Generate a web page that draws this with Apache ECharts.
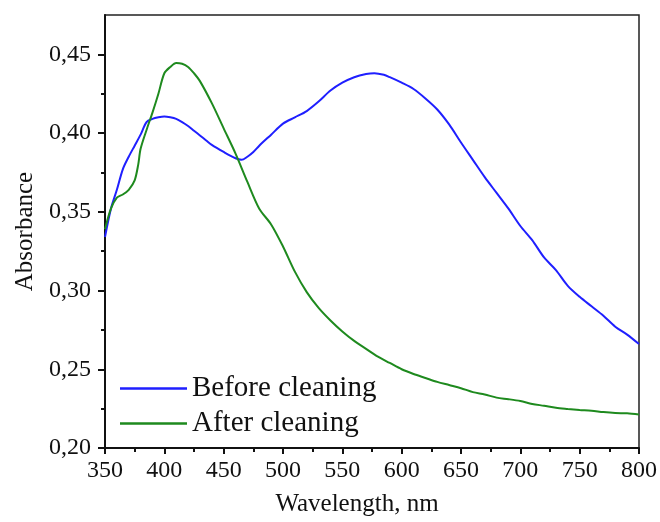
<!DOCTYPE html>
<html>
<head>
<meta charset="utf-8">
<script src="https://cdn.jsdelivr.net/npm/echarts@6/dist/echarts.min.js"></script>
<style>
  html, body { margin: 0; padding: 0; background: #fff; }
  #chart { width: 660px; height: 522px; }
</style>
</head>
<body>
<div id="chart"></div>
<script>
// Wavelength grid (nm) and absorbance
const beforeWl = [350, 355, 360, 365, 370, 375, 380, 385, 390, 395, 400, 405, 410, 415, 420, 425, 430, 435, 440, 450, 460, 465, 470, 475, 480, 490, 500, 510, 520, 530, 540, 550, 560, 570, 577, 585, 590, 600, 610, 620, 630, 640, 650, 660, 670, 680, 690, 700, 710, 720, 730, 740, 750, 760, 770, 780, 790, 800];
const beforeAbs = [0.334, 0.352, 0.364, 0.377, 0.385, 0.392, 0.399, 0.407, 0.409, 0.410, 0.4105, 0.410, 0.409, 0.407, 0.4045, 0.4015, 0.3985, 0.3955, 0.3925, 0.388, 0.384, 0.383, 0.385, 0.388, 0.392, 0.399, 0.406, 0.410, 0.414, 0.420, 0.427, 0.432, 0.4355, 0.4375, 0.438, 0.437, 0.4355, 0.432, 0.428, 0.422, 0.415, 0.4055, 0.394, 0.383, 0.372, 0.362, 0.352, 0.341, 0.332, 0.321, 0.313, 0.303, 0.296, 0.290, 0.284, 0.277, 0.272, 0.266];

const afterWl = [350, 355, 360, 365, 370, 375, 378, 380, 385, 390, 395, 400, 405, 410, 415, 420, 425, 430, 440, 450, 460, 470, 480, 490, 500, 510, 520, 530, 540, 550, 560, 570, 580, 590, 600, 610, 620, 630, 640, 650, 660, 670, 680, 690, 700, 710, 720, 730, 740, 750, 760, 770, 780, 790, 800];
const afterAbs = [0.339, 0.352, 0.359, 0.361, 0.364, 0.370, 0.380, 0.390, 0.402, 0.413, 0.425, 0.438, 0.442, 0.4445, 0.444, 0.442, 0.438, 0.433, 0.419, 0.403, 0.387, 0.369, 0.352, 0.342, 0.328, 0.312, 0.299, 0.289, 0.281, 0.274, 0.268, 0.263, 0.258, 0.254, 0.250, 0.247, 0.2445, 0.242, 0.240, 0.238, 0.2355, 0.234, 0.232, 0.231, 0.2298, 0.228, 0.2268, 0.2255, 0.2248, 0.2242, 0.2237, 0.2228, 0.2222, 0.222, 0.2213];

const seriesNames = ['Before cleaning', 'After cleaning'];
const yMajor = [0.20, 0.25, 0.30, 0.35, 0.40, 0.45];
const yMinor = [0.225, 0.275, 0.325, 0.375, 0.425];

const font = "'Liberation Serif', 'Times New Roman', serif";
const ink = '#111';

const chart = echarts.init(document.getElementById('chart'));

const pairs = (xs, ys) => xs.map((x, i) => [x, ys[i]]);

chart.setOption({
    animation: false,
    backgroundColor: '#fff',
    grid: {
        left: 105, right: 20, top: 15, bottom: 72,
        show: true, borderColor: '#222', borderWidth: 1.5
    },
    legend: {
        orient: 'vertical',
        left: 120, top: 374,
        padding: 0,
        icon: 'rect',
        itemWidth: 67, itemHeight: 2.5,
        itemGap: 6,
        textStyle: { fontFamily: font, fontSize: 29, color: ink },
        data: seriesNames
    },
    xAxis: {
        type: 'value',
        min: 350, max: 800, interval: 50,
        name: 'Wavelength, nm',
        nameLocation: 'middle',
        nameGap: 44,
        nameTextStyle: { fontFamily: font, fontSize: 25, color: ink, padding: [0, 30, 0, 0] },
        axisLine: { lineStyle: { color: ink, width: 2 } },
        axisTick: { show: true, inside: false, length: 6, lineStyle: { color: ink, width: 2 } },
        minorTick: { show: true, splitNumber: 2, length: 4, lineStyle: { color: ink, width: 2 } },
        axisLabel: { fontFamily: font, fontSize: 24, color: ink, margin: 11 },
        splitLine: { show: false }
    },
    yAxis: [
        {
            type: 'value',
            min: 0.2, max: 0.475,
            name: 'Absorbance',
            nameLocation: 'middle',
            nameGap: 67,
            nameTextStyle: { fontFamily: font, fontSize: 25, color: ink },
            axisLine: { lineStyle: { color: ink, width: 2 } },
            axisTick: { show: true, length: 7, customValues: yMajor, lineStyle: { color: ink, width: 2 } },
            axisLabel: {
                fontFamily: font, fontSize: 24, color: ink, margin: 14,
                customValues: yMajor,
                formatter: v => v.toFixed(2).replace('.', ',')
            },
            splitLine: { show: false }
        },
        {
            type: 'value',
            min: 0.2, max: 0.475,
            position: 'left',
            axisLine: { show: false },
            axisTick: { show: true, length: 4, customValues: yMinor, lineStyle: { color: ink, width: 2 } },
            axisLabel: { show: false },
            splitLine: { show: false }
        }
    ],
    series: [
        {
            name: seriesNames[0],
            type: 'line',
            data: pairs(beforeWl, beforeAbs),
            showSymbol: false, symbol: 'none',
            smooth: 0.3,
            lineStyle: { color: '#1f1fff', width: 2 },
            itemStyle: { color: '#1f1fff' }
        },
        {
            name: seriesNames[1],
            type: 'line',
            data: pairs(afterWl, afterAbs),
            showSymbol: false, symbol: 'none',
            smooth: 0.3,
            lineStyle: { color: '#1e8a1e', width: 2 },
            itemStyle: { color: '#1e8a1e' }
        }
    ]
});
</script>
</body>
</html>
